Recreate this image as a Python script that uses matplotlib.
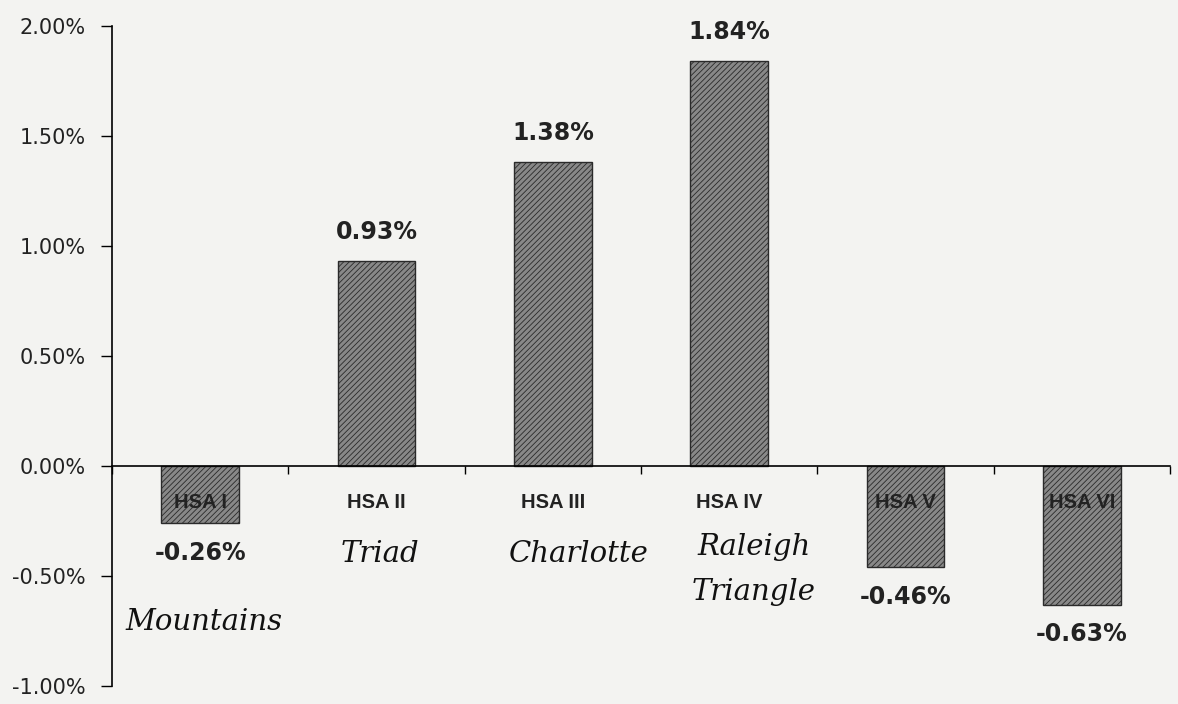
import matplotlib
matplotlib.use("Agg")
import matplotlib.pyplot as plt
import numpy as np

# data
regions = ["HSA I", "HSA II", "HSA III", "HSA IV", "HSA V", "HSA VI"]
changes = [-0.26, 0.93, 1.38, 1.84, -0.46, -0.63]   # percent
notes = ["Mountains", "Triad", "Charlotte", "Raleigh\nTriangle"]
yticks = [-1.0, -0.5, 0.0, 0.5, 1.0, 1.5, 2.0]

plt.rcParams["font.family"] = ["DejaVu Sans"]
plt.rcParams["hatch.color"] = "#5a5a5a"
plt.rcParams["hatch.linewidth"] = 0.6

bg = "#f3f3f1"
ink = "#222222"
fig = plt.figure(figsize=(11.78, 7.04), dpi=100, facecolor=bg)
ax = fig.add_axes([0.0951, 0.0256, 0.8981, 0.9375])
ax.set_facecolor(bg)

x = np.arange(len(regions))
ax.bar(x, changes, width=0.44, color="#888888", edgecolor="#2a2a2a",
       linewidth=1.0, hatch="//////", zorder=2)

ax.set_xlim(-0.5, len(regions) - 0.5)
ax.set_ylim(-1.0, 2.0)
ax.set_yticks(yticks)
ax.set_yticklabels([f"{v:.2f}%" for v in yticks], fontsize=15, color=ink)
ax.tick_params(axis="y", direction="out", length=8, width=1.0, pad=11)

# category boundaries as tick marks, names drawn as text below the zero line
ax.set_xticks(np.arange(len(regions) + 1) - 0.5)
ax.set_xticklabels([])
ax.tick_params(axis="x", direction="out", length=6, width=1.0)

for s in ["top", "right"]:
    ax.spines[s].set_visible(False)
ax.spines["bottom"].set_position(("data", 0))
ax.spines["left"].set_linewidth(1.2)
ax.spines["bottom"].set_linewidth(1.2)

for xi, name in zip(x, regions):
    ax.text(xi, -0.165, name, family=["Liberation Sans"], ha="center", va="center",
            fontsize=14.5, fontweight="bold", color=ink, zorder=3)

for xi, v in zip(x, changes):
    if v >= 0:
        ax.text(xi, v + 0.08, f"{v:.2f}%", ha="center", va="bottom",
                fontsize=17, fontweight="bold", color=ink)
    else:
        ax.text(xi, v - 0.08, f"{v:.2f}%", ha="center", va="top",
                fontsize=17, fontweight="bold", color=ink)

# handwritten notes on the scan
note_pos = [(0.02, -0.71), (1.02, -0.40), (2.15, -0.40), (3.14, -0.47)]
for (nx, ny), txt in zip(note_pos, notes):
    ax.text(nx, ny, txt, ha="center", va="center", fontsize=21,
            family=["DejaVu Serif"], style="italic", color="#111111",
            linespacing=1.8)

fig.savefig("out.png", dpi=100, facecolor=bg)
